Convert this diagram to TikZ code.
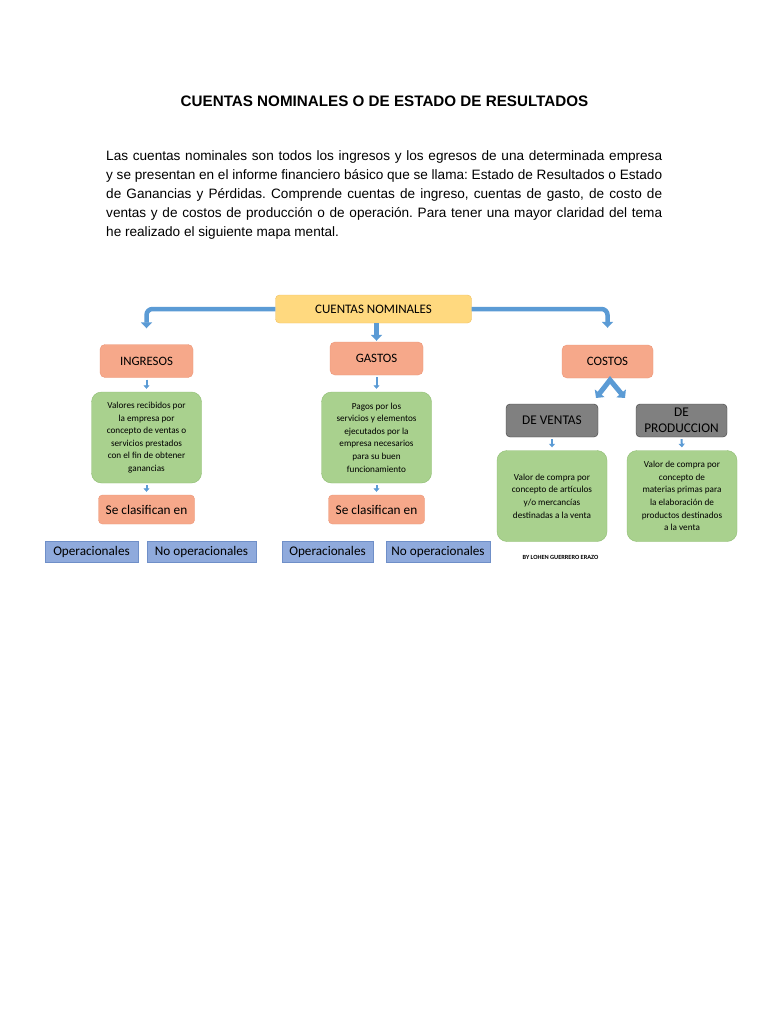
\documentclass[tikz,border=0pt]{standalone}
\usepackage{fontspec}
\setmainfont{Liberation Sans}
\newfontfamily\diagfont{Carlito}
\usetikzlibrary{arrows.meta, positioning}

\definecolor{cnyellow}{HTML}{FFD97F}
\definecolor{cnyellowline}{HTML}{F0C060}
\definecolor{salmon}{HTML}{F6A88A}
\definecolor{salmonline}{HTML}{EC9677}
\definecolor{leafgreen}{HTML}{A9D18E}
\definecolor{leafgreenline}{HTML}{8FBD72}
\definecolor{tagblue}{HTML}{8FAADC}
\definecolor{tagblueline}{HTML}{6F8FC8}
\definecolor{darkgrey}{HTML}{808080}
\definecolor{darkgreyline}{HTML}{404040}
\definecolor{arrowblue}{HTML}{5B9BD5}

\frenchspacing
\begin{document}
\begin{tikzpicture}[
    x=1pt, y=-1pt,
    rootbox/.style={rectangle, draw=cnyellowline, fill=cnyellow, rounded corners=4pt, align=center, minimum width=196pt, minimum height=28pt, font=\diagfont\fontsize{13}{15}\selectfont},
    headbox/.style={rectangle, draw=salmonline, fill=salmon, rounded corners=5pt, align=center, minimum width=93pt, minimum height=33pt, font=\diagfont\fontsize{12.8}{15}\selectfont},
    classbox/.style={rectangle, draw=salmonline, fill=salmon, rounded corners=4pt, align=center, minimum width=96pt, minimum height=29pt, font=\diagfont\fontsize{13.3}{15}\selectfont},
    notebox/.style={rectangle, draw=leafgreenline, fill=leafgreen, rounded corners=10pt, align=center, minimum width=110pt, minimum height=91pt, inner sep=2pt, font=\diagfont\fontsize{9.2}{12.6}\selectfont},
    greybox/.style={rectangle, draw=darkgreyline, fill=darkgrey, rounded corners=4pt, align=center, minimum width=92pt, minimum height=33pt, inner sep=1pt, font=\diagfont\fontsize{13.3}{15.6}\selectfont},
    tagbox/.style={rectangle, draw=tagblueline, fill=tagblue, align=center, minimum height=21pt, inner sep=1pt, font=\diagfont\fontsize{13.2}{15}\selectfont},
    bigarrow/.style={draw=arrowblue, line width=4.5pt, -{Triangle[width=11pt, length=6pt]}},
    smallarrow/.style={draw=arrowblue, line width=2pt, -{Triangle[width=6pt, length=3.5pt]}, shorten <=2pt, shorten >=3pt}
]
\useasboundingbox (0,0) rectangle (768,1024);
\fill[white] (0,0) rectangle (768,1024);

% title and text
\node[font=\bfseries\fontsize{15.2}{17}\selectfont] (title) at (384.5,101) {CUENTAS NOMINALES O DE ESTADO DE RESULTADOS};
\node[anchor=north west, inner sep=0pt, text width=556pt, align=justify, font=\fontsize{13.6}{19}\selectfont] (intro) at (106,150)
{Las cuentas nominales son todos los ingresos y los egresos de una determinada empresa\linebreak
y se presentan en el informe financiero básico que se llama: Estado de Resultados o Estado\linebreak
de Ganancias y Pérdidas. Comprende cuentas de ingreso, cuentas de gasto, de costo de\linebreak
ventas y de costos de producción o de operación. Para tener una mayor claridad del tema\linebreak
he realizado el siguiente mapa mental.};

% mind map
\node[rootbox] (cn) at (373.5,309) {CUENTAS NOMINALES};
\node[headbox] (ingresos) at (146.5,361) {INGRESOS};
\node[headbox] (gastos) at (376.5,358.5) {GASTOS};
\node[headbox, minimum width=91pt] (costos) at (607.5,361.5) {COSTOS};

\node[notebox] (ingdef) at (146.5,437.5) {Valores recibidos por\\la empresa por\\concepto de ventas o\\servicios prestados\\con el fin de obtener\\ganancias};
\node[notebox] (gasdef) at (376.5,437.5) {Pagos por los\\servicios y elementos\\ejecutados por la\\empresa necesarios\\para su buen\\funcionamiento};

\node[classbox] (ingclass) at (146.5,509.5) {Se clasifican en};
\node[classbox] (gasclass) at (376.5,509.5) {Se clasifican en};

\node[tagbox, minimum width=93pt] (ingop) at (91.5,551.5) {Operacionales};
\node[tagbox, minimum width=109pt] (ingnop) at (201.5,551.5) {No operacionales};
\node[tagbox, minimum width=91pt] (gasop) at (327.5,551.5) {Operacionales};
\node[tagbox, minimum width=104pt] (gasnop) at (438,551.5) {No operacionales};

\node[greybox] (ventas) at (552,420.5) {DE VENTAS};
\node[greybox, minimum width=91pt] (produccion) at (681.5,420.5) {DE\\PRODUCCION};

\node[notebox] (vendef) at (552,496) {Valor de compra por\\concepto de artículos\\y/o mercancías\\destinadas a la venta};
\node[notebox] (prodef) at (682,496) {Valor de compra por\\concepto de\\materias primas para\\la elaboración de\\productos destinados\\a la venta};

\node[font=\diagfont\bfseries\fontsize{6.3}{7}\selectfont] (author) at (560.5,557) {BY LOHEN GUERRERO ERAZO};

% arrows
\draw[bigarrow, rounded corners=6pt, shorten >=16pt] (cn.west) -| (ingresos.north);
\draw[bigarrow, rounded corners=6pt, shorten >=17pt] (cn.east) -| (costos.north);
\draw[bigarrow, shorten >=1pt] (cn.south -| gastos.north) -- (gastos.north);

\coordinate (chevtop) at (610,380);
\coordinate (chevleft) at (596,398);
\coordinate (chevright) at (625,398);
\draw[bigarrow, line width=5pt, {Triangle[width=12pt, length=6pt]}-{Triangle[width=12pt, length=6pt]}] (chevleft) -- (chevtop) -- (chevright);

\draw[smallarrow] (ingresos.south) -- (ingdef.north);
\draw[smallarrow] (ingdef.south) -- (ingclass.north);
\draw[smallarrow] (gastos.south) -- (gasdef.north);
\draw[smallarrow] (gasdef.south) -- (gasclass.north);
\draw[smallarrow] (ventas.south) -- (vendef.north);
\draw[smallarrow] (produccion.south) -- (prodef.north);
\end{tikzpicture}
\end{document}
